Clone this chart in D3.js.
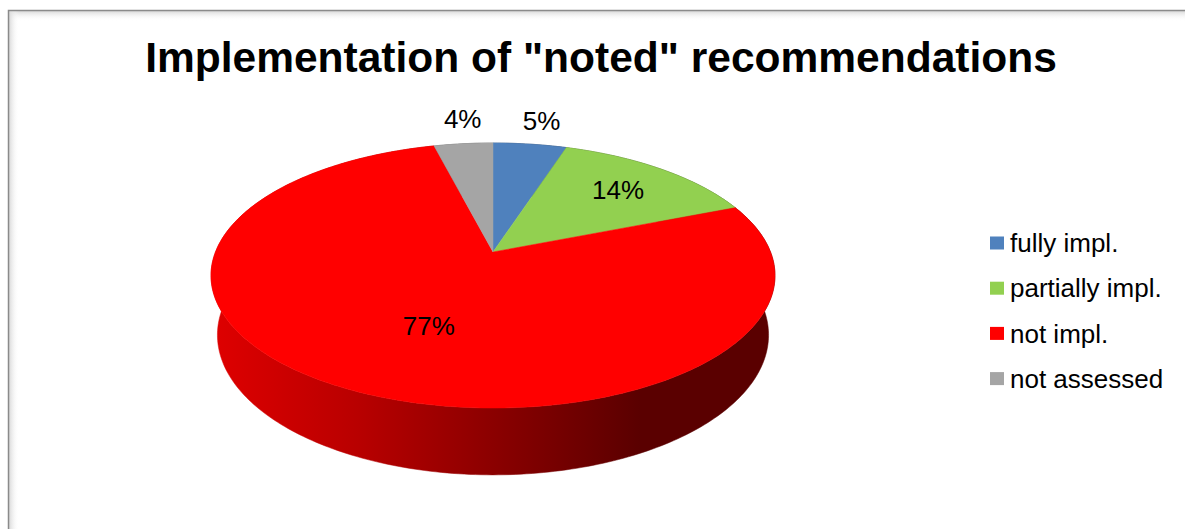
<!DOCTYPE html>
<html>
<head>
<meta charset="utf-8">
<script src="https://cdn.jsdelivr.net/npm/d3@7/dist/d3.min.js"></script>
<style>
  html, body { margin: 0; padding: 0; background: #ffffff; }
  svg { display: block; }
  text { font-family: "Liberation Sans", Arial, sans-serif; }
</style>
</head>
<body>
<svg id="chart" width="1185" height="529"></svg>
<script>
// ---- data ----
const categories = ["fully impl.", "partially impl.", "not impl.", "not assessed"];
const values = [5, 14, 77, 4];
const labels = ["5%", "14%", "77%", "4%"];
const colors = ["#4f81bd", "#92d050", "#ff0000", "#a5a5a5"];
const title = "Implementation of \"noted\" recommendations";

// ---- layout (label placement: radius in units of pie radius, angle nudge in degrees) ----
const labelRadius = [1.27, 0.72, 0.56, 1.28];
const labelNudge = [0.7, 0, -5, 1.2];

const W = 1185, H = 529;
const svg = d3.select("#chart");
const defs = svg.append("defs");

// frame with inner shadow
const shTop = defs.append("linearGradient").attr("id", "shTop").attr("x1", 0).attr("y1", 0).attr("x2", 0).attr("y2", 1);
shTop.append("stop").attr("offset", 0).attr("stop-color", "#d9d9d9");
shTop.append("stop").attr("offset", 1).attr("stop-color", "#ffffff").attr("stop-opacity", 0);
const shLeft = defs.append("linearGradient").attr("id", "shLeft").attr("x1", 0).attr("y1", 0).attr("x2", 1).attr("y2", 0);
shLeft.append("stop").attr("offset", 0).attr("stop-color", "#d9d9d9");
shLeft.append("stop").attr("offset", 1).attr("stop-color", "#ffffff").attr("stop-opacity", 0);

svg.append("rect").attr("x", 9).attr("y", 11).attr("width", W).attr("height", 10).attr("fill", "url(#shTop)");
svg.append("rect").attr("x", 9).attr("y", 11).attr("width", 10).attr("height", H).attr("fill", "url(#shLeft)");
svg.append("rect").attr("x", 8.5).attr("y", 10.5).attr("width", W + 20).attr("height", H + 20)
  .attr("fill", "none").attr("stroke", "#8a8a8a").attr("stroke-width", 1.5);

// title
svg.append("text").attr("x", 601).attr("y", 72).attr("text-anchor", "middle")
  .attr("font-size", 42.5).attr("font-weight", "bold").attr("fill", "#000").text(title);

// ---- 3D perspective pie ----
const cx = 493, cy = 252, F = 1387.6, D = 5.0;
const tilt = Math.asin(0.4625);
const s = Math.sin(tilt), c = Math.cos(tilt);
const thick = 0.244;

// theta: clockwise from 12 o'clock; r: radius fraction; w: height (0 top, negative down)
function proj(theta, r, w) {
  const u = r * Math.sin(theta), v = r * Math.cos(theta);
  const xc = u, yc = v * s + w * c, zc = D + v * c - w * s;
  return [cx + F * xc / zc, cy - F * yc / zc];
}

const pie = d3.pie().sort(null).value(d => d)
  .startAngle(0).endAngle(2 * Math.PI);
const arcs = pie(values);

function samples(a0, a1) {
  const n = Math.max(2, Math.ceil((a1 - a0) / (Math.PI / 180)));
  return d3.range(n + 1).map(i => a0 + (a1 - a0) * i / n);
}

const line = d3.line();

// side gradients (lighting): bright at left, deep shade from ~x=640 onwards
const leftX = proj(-Math.PI / 2, 1, 0)[0];
arcs.forEach((a, i) => {
  const g = defs.append("linearGradient").attr("id", "side" + i)
    .attr("gradientUnits", "userSpaceOnUse")
    .attr("x1", leftX).attr("y1", 0).attr("x2", 640).attr("y2", 0);
  g.append("stop").attr("offset", 0).attr("stop-color", d3.color(colors[i]).darker(0.39));
  g.append("stop").attr("offset", 0.33).attr("stop-color", d3.color(colors[i]).darker(0.9));
  g.append("stop").attr("offset", 1).attr("stop-color", d3.color(colors[i]).darker(2.92));
});

const gSide = svg.append("g");
const gTop = svg.append("g");

arcs.forEach((a, i) => {
  const ts = samples(a.startAngle, a.endAngle);
  const topPts = ts.map(t => proj(t, 1, 0));
  const botPts = ts.slice().reverse().map(t => proj(t, 1, -thick));
  gSide.append("path")
    .attr("d", line(topPts.concat(botPts)) + "Z")
    .attr("fill", "url(#side" + i + ")")
    .attr("stroke", "url(#side" + i + ")").attr("stroke-width", 0.5);
});

arcs.forEach((a, i) => {
  const ts = samples(a.startAngle, a.endAngle);
  const pts = [proj(0, 0, 0)].concat(ts.map(t => proj(t, 1, 0)));
  gTop.append("path")
    .attr("d", line(pts) + "Z")
    .attr("fill", colors[i]).attr("stroke", colors[i]).attr("stroke-width", 0.5);
});

// data labels
arcs.forEach((a, i) => {
  const mid = (a.startAngle + a.endAngle) / 2 + labelNudge[i] * Math.PI / 180;
  const p = proj(mid, labelRadius[i], 0);
  svg.append("text").attr("x", p[0]).attr("y", p[1]).attr("dy", "0.35em")
    .attr("text-anchor", "middle").attr("font-size", 26).attr("fill", "#000")
    .text(labels[i]);
});

// legend
const legend = svg.append("g").attr("transform", "translate(990,243)");
categories.forEach((cat, i) => {
  const g = legend.append("g").attr("transform", `translate(0,${i * 45.2})`);
  g.append("rect").attr("x", 0).attr("y", -6.5).attr("width", 14).attr("height", 13).attr("fill", colors[i]);
  g.append("text").attr("x", 20).attr("y", 0).attr("dy", "0.35em")
    .attr("font-size", 26).attr("fill", "#000").text(cat);
});
</script>
</body>
</html>
